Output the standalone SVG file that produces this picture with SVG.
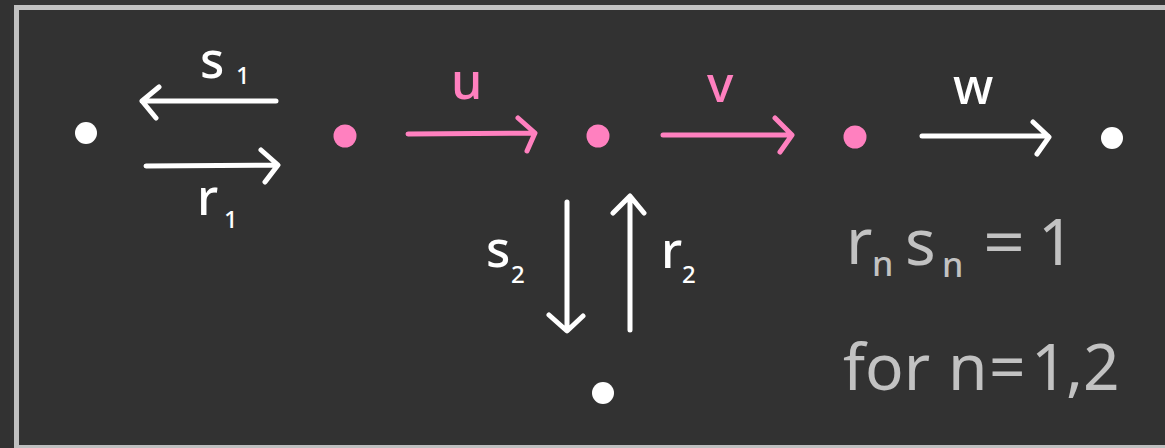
<svg xmlns="http://www.w3.org/2000/svg" width="1165" height="448" viewBox="0 0 1165 448">
<style>
.bg{fill:#323232}
.frame{fill:none;stroke:#c0c0c0;stroke-width:5}
.w{fill:#ffffff}
.p{fill:#ff80bf}
.aw{fill:none;stroke:#ffffff;stroke-width:5;stroke-linecap:round;stroke-linejoin:round}
.ap{fill:none;stroke:#ff80bf;stroke-width:5;stroke-linecap:round;stroke-linejoin:round}
.lbl{font-family:"Noto Sans","DejaVu Sans",sans-serif;font-size:50px;font-weight:500}
.sub{font-family:"Noto Sans","DejaVu Sans",sans-serif;font-size:24px;font-weight:500}
.g{fill:#c2c2c2;font-family:"Noto Sans","DejaVu Sans",sans-serif;font-size:64px}
.gs{fill:#c2c2c2;font-family:"Noto Sans","DejaVu Sans",sans-serif;font-size:34px;font-weight:500}
</style>
<rect class="bg" x="0" y="0" width="1165" height="448"/>
<rect class="frame" x="16.5" y="7.5" width="1160" height="440"/>
<g id="connectors">
  <g id="e-s1"><path class="aw" d="M276,101 L142,101 M159,87 L142,101 L156,118"/><text class="lbl w" x="200" y="78">s</text><text class="sub w" x="236" y="84">1</text></g>
  <g id="e-r1"><path class="aw" d="M146,166 L277,165 M261,150 L278,165 L265,182"/><text class="lbl w" x="197" y="215">r</text><text class="sub w" x="224" y="228">1</text></g>
  <g id="e-u"><path class="ap" d="M408,134 L534,133 M518,118 L535,133 L527,151"/><text class="lbl p" x="451" y="99">u</text></g>
  <g id="e-v"><path class="ap" d="M663,135 L791,135 M775,118 L792,135 L780,152"/><text class="lbl p" x="707" y="102">v</text></g>
  <g id="e-w"><path class="aw" d="M922,136 L1048,136 M1033,122 L1049,137 L1037,154"/><text class="lbl w" x="953" y="104">w</text></g>
  <g id="e-s2"><path class="aw" d="M567,202 L567,330 M549,315 L567,331 L583,316"/><text class="lbl w" x="486" y="267">s</text><text class="sub w" x="511" y="283">2</text></g>
  <g id="e-r2"><path class="aw" d="M630,330 L630,197 M613,213 L630,196 L644,213"/><text class="lbl w" x="661" y="268">r</text><text class="sub w" x="682" y="283">2</text></g>
</g>
<g id="n1"><circle class="w" cx="86" cy="133" r="11"/></g>
<g id="n2"><circle class="p" cx="345" cy="136" r="11.5"/></g>
<g id="n3"><circle class="p" cx="598" cy="136" r="11.5"/></g>
<g id="n4"><circle class="p" cx="855" cy="137" r="11.5"/></g>
<g id="n5"><circle class="w" cx="1112" cy="138" r="11"/></g>
<g id="n6"><circle class="w" cx="603" cy="393" r="11"/></g>
<g id="note">
  <text class="g" x="846" y="264">r</text>
  <text class="gs" x="872" y="276">n</text>
  <text class="g" x="905" y="265">s</text>
  <text class="gs" x="942" y="277">n</text>
  <text class="g" x="983" y="265" transform="translate(983,0) scale(1.15,1) translate(-983,0)">=</text>
  <text class="g" x="1038" y="265">1</text>
  <text class="g" x="843" y="390">for</text>
  <text class="g" x="948" y="390">n</text>
  <text class="g" x="989" y="390">=</text>
  <text class="g" x="1031" y="390">1</text>
  <text class="g" x="1066" y="390">,</text>
  <text class="g" x="1083" y="390">2</text>
</g>
</svg>
